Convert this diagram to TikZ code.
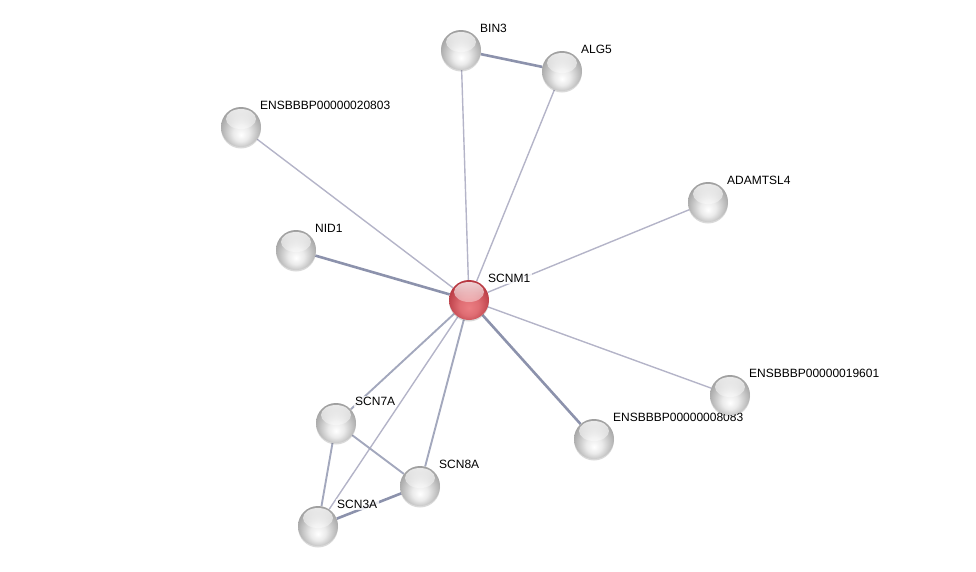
\documentclass[tikz,border=0pt]{standalone}
\usepackage{fontspec}
\setmainfont{Liberation Sans}
\usepackage{tikz}
\usetikzlibrary{calc,backgrounds,fadings,shadows}
\definecolor{edgeblue}{RGB}{140,146,172}
\definecolor{edgelight}{RGB}{180,180,200}
\definecolor{ballgray}{RGB}{140,140,140}
\definecolor{ballred}{RGB}{175,45,55}
\definecolor{ballpink}{RGB}{235,125,130}
\pgfdeclareradialshading{glassgray}{\pgfpoint{0bp}{-10bp}}{color(0bp)=(white); color(10bp)=(white!92!black); color(24bp)=(white!70!black); color(34bp)=(ballgray); color(50bp)=(ballgray)}
\pgfdeclareradialshading{glassred}{\pgfpoint{0bp}{-10bp}}{color(0bp)=(ballpink); color(12bp)=(ballpink!80!ballred); color(32bp)=(ballred); color(50bp)=(ballred)}

\begin{document}
\begin{tikzpicture}[x=1pt, y=-1pt,
  every node/.style={font=\fontsize{12}{14}\selectfont},
  gene/.style={circle, minimum size=40pt, inner sep=0pt, shading=glassgray,
    drop shadow={shadow xshift=0pt, shadow yshift=-1.5pt, opacity=0.15, fill=black},
    path picture={\fill[white, fill opacity=0.8, path fading=south]
      ($(path picture bounding box.center)+(0pt,8pt)$) ellipse (15pt and 10pt);}},
  query/.style={gene, shading=glassred},
  lab/.style={fill=white, fill opacity=0.8, text opacity=1, inner sep=1.5pt,
    anchor=base west, label distance=4.5pt},
  weak/.style={edgelight, line width=1.4pt},
  mid/.style={edgeblue!80!white, line width=1.9pt},
  strong/.style={edgeblue, line width=2.6pt}
]
  \useasboundingbox (0,0) rectangle (976,571);

  % proteins
  \node[query, label={[lab]45:SCNM1}] (scnm1) at (469,300) {};
  \node[gene, label={[lab]45:BIN3}] (bin3) at (461,50) {};
  \node[gene, label={[lab]45:ALG5}] (alg5) at (562,71) {};
  \node[gene, label={[lab]45:ENSBBBP00000020803}] (ens20803) at (241,127) {};
  \node[gene, label={[lab]45:ADAMTSL4}] (adamtsl4) at (708,202) {};
  \node[gene, label={[lab]45:NID1}] (nid1) at (296,250) {};
  \node[gene, label={[lab]45:ENSBBBP00000008083}] (ens8083) at (594,439) {};
  \node[gene, label={[lab]45:ENSBBBP00000019601}] (ens19601) at (730,395) {};
  \node[gene, label={[lab]45:SCN7A}] (scn7a) at (336,423) {};
  \node[gene, label={[lab]45:SCN8A}] (scn8a) at (420,486) {};
  \node[gene, label={[lab]45:SCN3A}] (scn3a) at (318,526) {};

  % interactions
  \begin{scope}[on background layer]
    \draw[weak] (scnm1) -- (bin3);
    \draw[weak] (scnm1) -- (alg5);
    \draw[strong] (bin3) -- (alg5);
    \draw[weak] (scnm1) -- (ens20803);
    \draw[weak] (scnm1) -- (adamtsl4);
    \draw[strong] (scnm1) -- (nid1);
    \draw[weak] (scnm1) -- (ens19601);
    \draw[strong] (scnm1) -- (ens8083);
    \draw[mid] (scnm1) -- (scn7a);
    \draw[mid] (scnm1) -- (scn8a);
    \draw[weak] (scnm1) -- (scn3a);
    \draw[mid] (scn7a) -- (scn8a);
    \draw[mid] (scn7a) -- (scn3a);
    \draw[strong] (scn3a) -- (scn8a);
  \end{scope}
\end{tikzpicture}
\end{document}
